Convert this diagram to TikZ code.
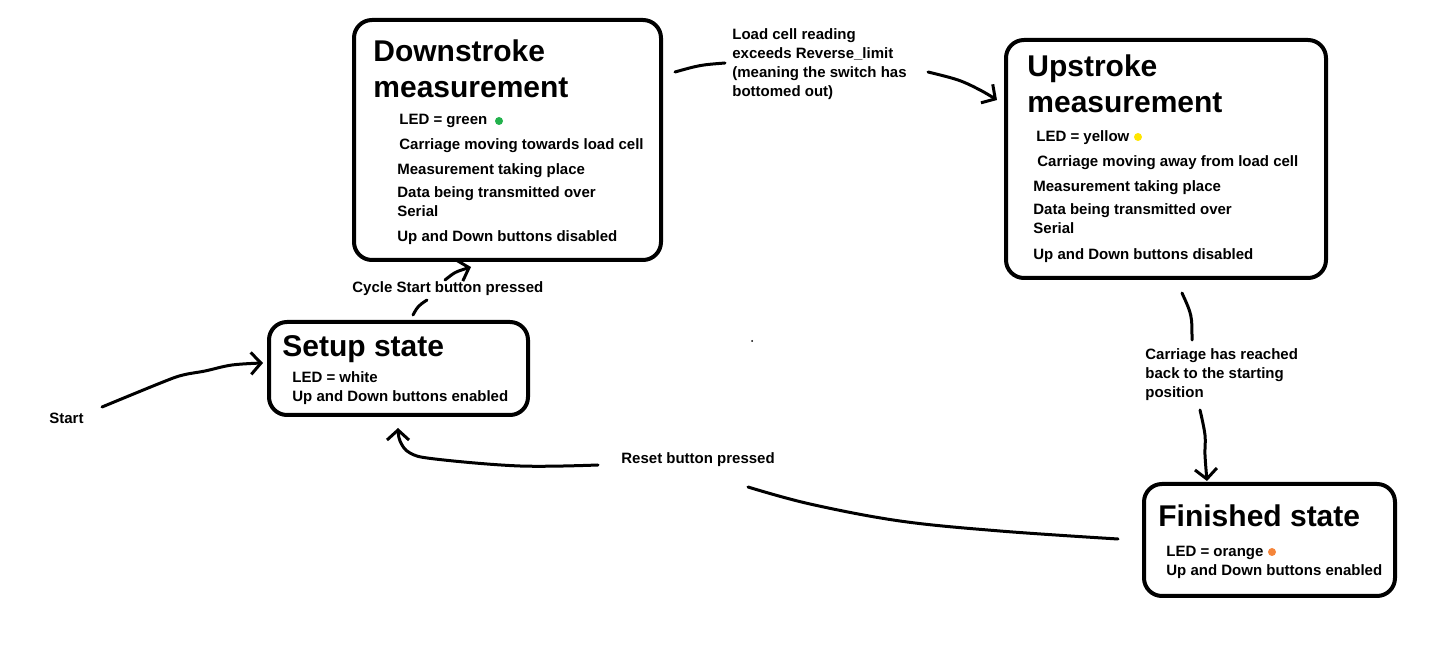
\documentclass[tikz,border=0pt]{standalone}
\usepackage{fontspec}
\setmainfont{Liberation Sans}
\usetikzlibrary{arrows.meta}
\definecolor{ledgreen}{HTML}{22B14C}
\definecolor{ledyellow}{HTML}{FFE600}
\definecolor{ledorange}{HTML}{F5853A}
\begin{document}
\begin{tikzpicture}[x=0.5pt,y=-0.5pt,
  statebox/.style={draw, line width=2pt, rounded corners=9pt, inner sep=0pt},
  ttl/.style={anchor=base west, inner sep=0pt, font=\fontsize{15}{18}\selectfont\bfseries},
  txt/.style={anchor=base west, inner sep=0pt, font=\fontsize{7.5}{9.5}\selectfont\bfseries},
  led/.style={circle, inner sep=0pt, minimum size=4pt, fill=#1},
  wire/.style={line width=1.5pt, line cap=round, line join=round},
  tip/.style={-{Straight Barb[length=5pt,width=11pt,line width=1.5pt]}}
]
\useasboundingbox (0,0) rectangle (1442,662);

% ---- Downstroke measurement
\node[statebox, minimum width=153.5pt, minimum height=120pt] (down) at (507.5,140) {};
\node[ttl] (downT1) at (373,62) {Downstroke};
\node[ttl] (downT2) at (373,98) {measurement};
\node[txt] (downL1) at (399,125) {LED = green};
\node[led=ledgreen] (downDot) at (499,121) {};
\node[txt] (downL2) at (399,150) {Carriage moving towards load cell};
\node[txt] (downL3) at (397,175) {Measurement taking place};
\node[txt] (downL4) at (397,198) {Data being transmitted over};
\node[txt] (downL5) at (397,217) {Serial};
\node[txt] (downL6) at (397,242) {Up and Down buttons disabled};

% ---- Upstroke measurement
\node[statebox, minimum width=160pt, minimum height=119pt] (up) at (1166,159) {};
\node[ttl] (upT1) at (1027,77) {Upstroke};
\node[ttl] (upT2) at (1027,113) {measurement};
\node[txt] (upL1) at (1036,142) {LED = yellow};
\node[led=ledyellow] (upDot) at (1138,137) {};
\node[txt] (upL2) at (1037,167) {Carriage moving away from load cell};
\node[txt] (upL3) at (1033,192) {Measurement taking place};
\node[txt] (upL4) at (1033,215) {Data being transmitted over};
\node[txt] (upL5) at (1033,234) {Serial};
\node[txt] (upL6) at (1033,260) {Up and Down buttons disabled};

% ---- Setup state
\node[statebox, minimum width=129.5pt, minimum height=46.5pt] (setup) at (398.5,368.5) {};
\node[ttl] (setupT) at (282,357) {Setup state};
\node[txt] (setupL1) at (292,383) {LED = white};
\node[txt] (setupL2) at (292,402) {Up and Down buttons enabled};

% ---- Finished state
\node[statebox, minimum width=125.5pt, minimum height=56pt] (fin) at (1269.5,540) {};
\node[ttl] (finT) at (1158,527) {Finished state};
\node[txt] (finL1) at (1166,557) {LED = orange};
\node[led=ledorange] (finDot) at (1272,552) {};
\node[txt] (finL2) at (1166,576) {Up and Down buttons enabled};

% ---- transition labels
\node[txt] (lc1) at (732,40) {Load cell reading};
\node[txt] (lc2) at (732,59) {exceeds Reverse\_limit};
\node[txt] (lc3) at (732,78) {(meaning the switch has};
\node[txt] (lc4) at (732,97) {bottomed out)};
\node[txt] (cyc) at (352,293) {Cycle Start button pressed};
\node[txt] (car1) at (1145,360) {Carriage has reached};
\node[txt] (car2) at (1145,379) {back to the starting};
\node[txt] (car3) at (1145,398) {position};
\node[txt] (rst) at (621,464) {Reset button pressed};
\node[txt] (start) at (49,424) {Start};
\node[circle, fill=black, inner sep=0pt, minimum size=1pt] (stray) at (752,341) {};

% ---- connector end points
\coordinate (a0) at (102,407);  \coordinate (a1) at (263,363);
\coordinate (b0) at (413,315);  \coordinate (b1) at (427,300);
\coordinate (b2) at (445,280);  \coordinate (b3) at (471,267);
\coordinate (c0) at (675,72);   \coordinate (c1) at (725,63);
\coordinate (c2) at (928,72);   \coordinate (c3) at (997,100);
\coordinate (d0) at (1182,293); \coordinate (d1) at (1192,340);
\coordinate (d2) at (1200,410); \coordinate (d3) at (1207,481);
\coordinate (e0) at (1118,539); \coordinate (e1) at (748,487);
\coordinate (e2) at (598,465);  \coordinate (e3) at (398,428);

% Start -> Setup
\draw[wire,tip] plot[smooth, tension=0.6] coordinates {(a0) (163,382) (183,375) (205,371) (232,365) (a1)};
% Setup -> Downstroke
\draw[wire] (b0) .. controls (418,306) .. (b1);
\draw[wire,tip] (b2) .. controls (455,272) .. (b3);
% Downstroke -> Upstroke
\draw[wire] (c0) .. controls (700,65) .. (c1);
\draw[wire,tip] plot[smooth, tension=0.6] coordinates {(c2) (958,80) (980,90) (c3)};
% Upstroke -> Finished
\draw[wire] (d0) .. controls (1192,315) .. (d1);
\draw[wire,tip] plot[smooth, tension=0.6] coordinates {(d2) (1205,435) (1205,455) (d3)};
% Finished -> Setup
\draw[wire] plot[smooth, tension=0.6] coordinates {(e0) (1000,531) (900,521) (810,504) (e1)};
\draw[wire,tip] plot[smooth, tension=0.6] coordinates {(e2) (520,466) (435,459) (410,453) (400,441) (e3)};
\end{tikzpicture}
\end{document}
